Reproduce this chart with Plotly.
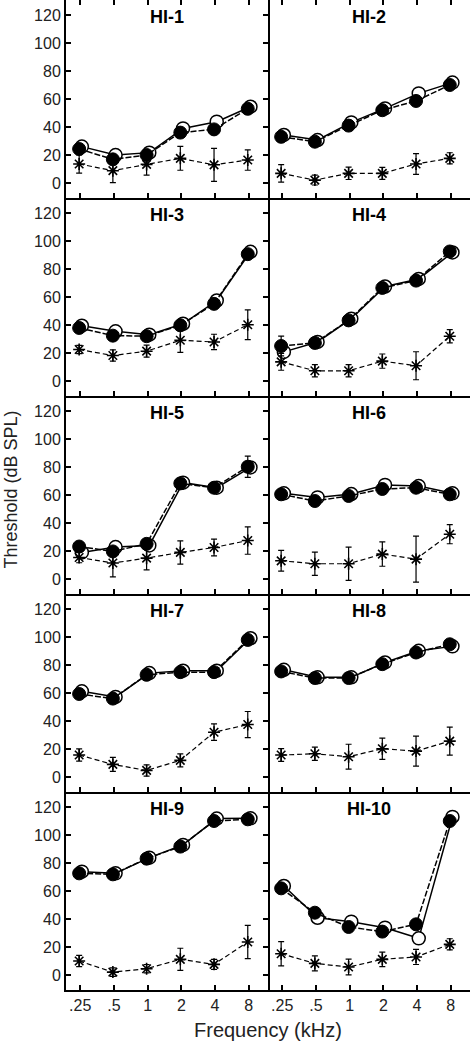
import plotly.graph_objects as go
from plotly.subplots import make_subplots

freqs = [0.25, 0.5, 1, 2, 4, 8]
freq_labels = [".25", ".5", "1", "2", "4", "8"]
panels = ["HI-1", "HI-2", "HI-3", "HI-4", "HI-5", "HI-6", "HI-7", "HI-8", "HI-9", "HI-10"]

open_vals = [
    [26, 20, 21.7, 39, 43.8, 54.5],
    [34.3, 30.7, 43.3, 53.3, 64, 71.7],
    [39.5, 35.5, 33.1, 40.9, 57.5, 92.3],
    [20.8, 27.9, 44.5, 67.5, 72.9, 91.8],
    [19, 22.8, 24, 68.8, 65.2, 79.7],
    [61.2, 58.3, 60.7, 67.2, 66.4, 61.2],
    [61.2, 57.2, 74.2, 75.9, 75.9, 99.1],
    [76.6, 71.2, 71.2, 81.8, 90.1, 93.3],
    [73.8, 72.6, 83.8, 92.9, 111.7, 111.9],
    [63.6, 40.9, 38.1, 33.8, 26.2, 112.9],
]
filled_vals = [
    [24.3, 16.9, 20, 36, 38.3, 53],
    [33, 29.5, 41, 52, 58.6, 70],
    [37.9, 32.4, 32, 39.8, 55.1, 90.6],
    [25, 27.2, 43.3, 66.5, 71.7, 92.5],
    [23.2, 19.7, 25.1, 68.3, 65.2, 80.2],
    [60.5, 55.7, 59.3, 64.3, 65.2, 60.5],
    [59.3, 56, 73, 74.9, 74.9, 97.9],
    [75.4, 70.7, 70.7, 80.6, 88.9, 94.8],
    [72.6, 71.9, 83.1, 91.7, 110, 111.2],
    [61.9, 44.5, 34.3, 31, 36.2, 110],
]
filled_err = [
    [0, 0, 0, 0, 0, 0],
    [0, 0, 0, 0, 0, 0],
    [0, 0, 0, 0, 0, 0],
    [7, 0, 0, 0, 0, 0],
    [0, 0, 0, 0, 0, 7.6],
    [0, 0, 0, 0, 0, 0],
    [0, 0, 0, 0, 0, 0],
    [0, 0, 0, 0, 0, 0],
    [0, 0, 0, 0, 0, 0],
    [0, 0, 0, 0, 0, 0],
]
star_vals = [
    [13.6, 8.8, 13.3, 17.6, 13, 16.4],
    [6.9, 2.1, 6.9, 6.9, 13.6, 17.6],
    [22.5, 18.2, 21.3, 29.1, 27.9, 40.2],
    [13.7, 7.3, 7.3, 14.2, 10.9, 32],
    [15.4, 11.4, 14.9, 19, 22.5, 27.5],
    [13, 10.9, 10.9, 17.8, 14.2, 32],
    [15.7, 9, 4.7, 11.9, 32, 37.5],
    [15.7, 16.6, 14.5, 20.2, 18.5, 25.6],
    [10, 2.1, 4.5, 11.2, 7.6, 23.6],
    [15.2, 8.3, 5.7, 11.2, 12.9, 21.9],
]
star_err = [
    [6.5, 8.5, 7.7, 8.5, 11.8, 7.3],
    [6.2, 3.5, 4.4, 4.3, 7.4, 4],
    [3, 4, 4.3, 8.6, 5.5, 10.6],
    [6, 4.4, 4.4, 5.1, 10, 4.7],
    [3.8, 9.8, 8.3, 8.3, 6, 9.8],
    [7.4, 8.3, 11.9, 8.7, 16.4, 6.8],
    [4.4, 5, 4, 4.6, 5.9, 9.3],
    [4.6, 4.7, 8.9, 7.6, 10.7, 10],
    [4, 3, 3, 7.9, 3.5, 11.9],
    [8.6, 5.4, 5.6, 5.2, 5.4, 4],
]

FONT = "Liberation Sans, Arial, sans-serif"

fig = make_subplots(rows=5, cols=2, horizontal_spacing=0, vertical_spacing=0)

for i, name in enumerate(panels):
    r, c = i // 2 + 1, i % 2 + 1
    x_open = [f * 2 ** 0.05 for f in freqs]
    x_fill = [f * 2 ** -0.03 for f in freqs]
    x_star = [f * 2 ** -0.03 for f in freqs]
    fig.add_trace(go.Scatter(
        x=x_open, y=open_vals[i], mode="lines+markers",
        line=dict(color="black", width=1.5),
        marker=dict(symbol="circle", size=13, color="white",
                    line=dict(color="black", width=1.5)),
        showlegend=False), row=r, col=c)
    fig.add_trace(go.Scatter(
        x=x_fill, y=filled_vals[i], mode="lines+markers",
        line=dict(color="black", width=1.5, dash="6px,2px"),
        marker=dict(symbol="circle", size=13, color="black",
                    line=dict(color="black", width=1)),
        error_y=dict(type="data", array=filled_err[i], color="black",
                     thickness=1.2, width=3),
        showlegend=False), row=r, col=c)
    fig.add_trace(go.Scatter(
        x=x_star, y=star_vals[i], mode="lines+markers",
        line=dict(color="black", width=1.2, dash="5px,3px"),
        marker=dict(symbol="asterisk-open", size=10,
                    line=dict(color="black", width=1.6)),
        error_y=dict(type="data", array=star_err[i], color="black",
                     thickness=1.2, width=3),
        showlegend=False), row=r, col=c)
    fig.add_annotation(
        text="<b>" + name + "</b>", x=0.5, y=0.914,
        xref="x domain" if i == 0 else f"x{i + 1} domain",
        yref="y domain" if i == 0 else f"y{i + 1} domain",
        xanchor="center", yanchor="middle", showarrow=False,
        font=dict(family=FONT, size=18, color="black"))

fig.update_xaxes(
    type="log", range=[-0.7285, 1.0747], tickvals=freqs, ticktext=freq_labels,
    showline=True, linecolor="black", linewidth=2, mirror=False,
    ticks="inside", ticklen=5, tickwidth=1.5, tickcolor="black",
    showgrid=False, zeroline=False, showticklabels=False, automargin=False,
    tickfont=dict(family=FONT, size=16, color="#222"))
for c in (1, 2):
    fig.update_xaxes(mirror="ticks", row=1, col=c)
    fig.update_xaxes(showticklabels=True, row=5, col=c)

fig.update_yaxes(
    range=[-10.7, 130.7], tickvals=[0, 20, 40, 60, 80, 100, 120],
    showline=True, linecolor="black", linewidth=2, mirror="ticks",
    ticks="inside", ticklen=5, tickwidth=1.5, tickcolor="black",
    showgrid=False, zeroline=False, showticklabels=False, automargin=False,
    tickfont=dict(family=FONT, size=16, color="#222"))
for r in range(1, 6):
    fig.update_yaxes(showticklabels=True, row=r, col=1)
    fig.update_yaxes(showline=False, ticks="", row=r, col=2)

fig.add_annotation(
    text="Threshold (dB SPL)", xref="paper", yref="paper",
    x=-0.135, y=0.506, textangle=-90, showarrow=False,
    xanchor="center", yanchor="middle",
    font=dict(family=FONT, size=18, color="#222"))
fig.add_annotation(
    text="Frequency (kHz)", xref="paper", yref="paper",
    x=0.5, y=-0.0404, showarrow=False,
    xanchor="center", yanchor="middle",
    font=dict(family=FONT, size=20, color="#222"))

fig.update_layout(
    width=470, height=1042,
    margin=dict(l=66, r=0, t=0, b=52),
    plot_bgcolor="white", paper_bgcolor="white",
    font=dict(family=FONT, color="#222"))

fig.write_html(
    "out.html",
    config={"displayModeBar": False},
    post_script="document.body.style.margin='0';document.body.style.padding='0';document.body.style.overflow='hidden';")
